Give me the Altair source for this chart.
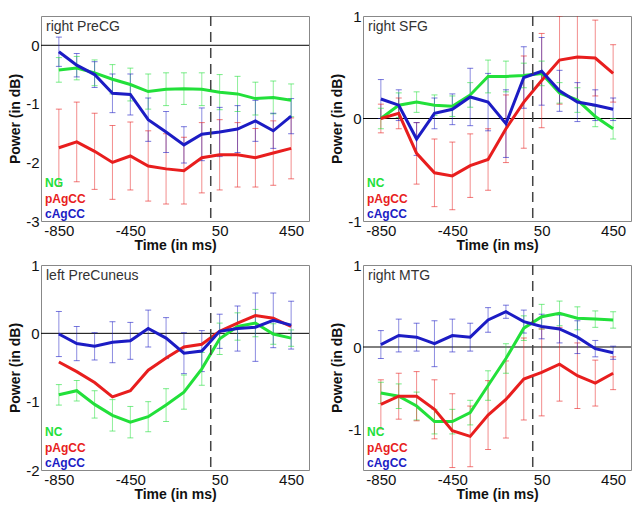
import altair as alt
import pandas as pd

times = [-850, -750, -650, -550, -450, -350, -250, -150, -50, 50, 150, 250, 350, 450]
groups = ["NC", "pAgCC", "cAgCC"]
colors = ["#22e03a", "#e81e1e", "#1c1cc4"]

# right PreCG
p1_title = "right PreCG"
p1_legend = ["NG", "pAgCC", "cAgCC"]
p1_nc = [-0.42, -0.39, -0.47, -0.58, -0.67, -0.79, -0.75, -0.74, -0.75, -0.80, -0.83, -0.91, -0.89, -0.94]
p1_nc_err = [0.21, 0.2, 0.22, 0.25, 0.28, 0.3, 0.28, 0.27, 0.28, 0.3, 0.3, 0.28, 0.28, 0.28]
p1_pa = [-1.75, -1.65, -1.81, -2.0, -1.89, -2.06, -2.11, -2.14, -1.92, -1.87, -1.87, -1.92, -1.84, -1.76]
p1_pa_err = [0.66, 0.68, 0.65, 0.63, 0.58, 0.6, 0.6, 0.57, 0.6, 0.6, 0.55, 0.5, 0.55, 0.52]
p1_ca = [-0.11, -0.34, -0.50, -0.82, -0.84, -1.27, -1.48, -1.70, -1.52, -1.48, -1.43, -1.29, -1.46, -1.21]
p1_ca_err = [0.25, 0.2, 0.22, 0.33, 0.35, 0.37, 0.35, 0.31, 0.45, 0.42, 0.4, 0.35, 0.3, 0.3]
p1_ydom = [-3, 0.5]
p1_yticks = [-3, -2, -1, 0]

# right SFG
p2_title = "right SFG"
p2_legend = ["NC", "pAgCC", "cAgCC"]
p2_nc = [0.0, 0.13, 0.16, 0.13, 0.12, 0.23, 0.41, 0.41, 0.42, 0.44, 0.25, 0.18, 0.02, -0.10]
p2_nc_err = [0.1, 0.12, 0.1, 0.1, 0.1, 0.12, 0.16, 0.15, 0.12, 0.12, 0.1, 0.12, 0.1, 0.1]
p2_pa = [0.0, 0.05, -0.34, -0.53, -0.56, -0.46, -0.40, -0.10, 0.16, 0.37, 0.57, 0.60, 0.59, 0.44]
p2_pa_err = [0.14, 0.15, 0.3, 0.33, 0.33, 0.31, 0.3, 0.33, 0.45, 0.46, 0.43, 0.43, 0.37, 0.28]
p2_ca = [0.19, 0.13, -0.20, 0.05, 0.09, 0.21, 0.16, -0.05, 0.40, 0.46, 0.27, 0.16, 0.13, 0.09]
p2_ca_err = [0.19, 0.15, 0.16, 0.15, 0.15, 0.28, 0.28, 0.33, 0.3, 0.33, 0.2, 0.19, 0.15, 0.11]
p2_ydom = [-1, 1]
p2_yticks = [-1, 0, 1]

# left PreCuneus
p3_title = "left PreCuneus"
p3_legend = ["NC", "pAgCC", "cAgCC"]
p3_nc = [-0.90, -0.84, -1.04, -1.20, -1.30, -1.22, -1.05, -0.86, -0.52, -0.08, 0.10, 0.15, -0.01, -0.07]
p3_nc_err = [0.15, 0.15, 0.2, 0.23, 0.23, 0.22, 0.24, 0.25, 0.24, 0.23, 0.2, 0.2, 0.15, 0.12]
p3_pa = [-0.42, -0.56, -0.72, -0.93, -0.84, -0.54, -0.36, -0.20, -0.16, 0.03, 0.15, 0.26, 0.22, 0.10]
p3_pa_err = [0] * 14
p3_ca = [-0.01, -0.15, -0.19, -0.13, -0.11, 0.07, -0.07, -0.29, -0.26, 0.03, 0.07, 0.09, 0.19, 0.12]
p3_ca_err = [0.33, 0.25, 0.2, 0.3, 0.27, 0.27, 0.3, 0.3, 0.3, 0.25, 0.33, 0.5, 0.4, 0.35]
p3_ydom = [-2, 1]
p3_yticks = [-2, -1, 0, 1]

# right MTG
p4_title = "right MTG"
p4_legend = ["NC", "pAgCC", "cAgCC"]
p4_nc = [-0.56, -0.60, -0.72, -0.91, -0.91, -0.80, -0.47, -0.14, 0.23, 0.37, 0.41, 0.35, 0.34, 0.33]
p4_nc_err = [0.13, 0.15, 0.17, 0.15, 0.15, 0.15, 0.18, 0.18, 0.15, 0.15, 0.15, 0.14, 0.1, 0.1]
p4_pa = [-0.70, -0.60, -0.60, -0.76, -1.02, -1.09, -0.83, -0.64, -0.39, -0.31, -0.21, -0.35, -0.44, -0.32]
p4_pa_err = [0.3, 0.28, 0.3, 0.36, 0.45, 0.37, 0.42, 0.47, 0.5, 0.53, 0.45, 0.4, 0.28, 0.2]
p4_ca = [0.03, 0.14, 0.12, 0.04, 0.14, 0.12, 0.33, 0.43, 0.31, 0.25, 0.22, 0.12, -0.02, -0.07]
p4_ca_err = [0.17, 0.2, 0.17, 0.28, 0.2, 0.17, 0.15, 0.08, 0.14, 0.15, 0.17, 0.2, 0.1, 0.08]
p4_ydom = [-1.5, 1]
p4_yticks = [-1, 0, 1]

x_ticks = [-850, -450, 50, 450]
x_dom = [-950, 550]

W, H = 268, 205
FONT = "Liberation Sans"


def panel(title, legend, nc, nc_e, pa, pa_e, ca, ca_e, ydom, yticks):
    rows = []
    for g, m, e in zip(groups, [nc, pa, ca], [nc_e, pa_e, ca_e]):
        for t, v, er in zip(times, m, e):
            rows.append({"group": g, "time": t, "mean": v, "lo": v - er, "hi": v + er, "err": er})
    df = pd.DataFrame(rows)
    xscale = alt.Scale(domain=x_dom, nice=False, zero=False)
    yscale = alt.Scale(domain=ydom, nice=False, zero=False)
    cscale = alt.Scale(domain=groups, range=colors)
    col = alt.Color("group:N", scale=cscale, legend=None)
    base = alt.Chart(df)
    eb = base.transform_filter("datum.err > 0")
    rules = eb.mark_rule(strokeWidth=1, opacity=0.5, clip=True).encode(
        x=alt.X("time:Q", scale=xscale,
                axis=alt.Axis(values=x_ticks, title="Time (in ms)", tickCount=20,
                              labelExpr="'' + datum.value", labelOverlap=False)),
        y=alt.Y("lo:Q", scale=yscale,
                axis=alt.Axis(values=yticks, title="Power (in dB)", tickCount=20,
                              labelExpr="'' + datum.value", labelOverlap=False)),
        y2="hi:Q", color=col)
    cap_lo = eb.mark_tick(orient="horizontal", size=6, thickness=1, opacity=0.6, clip=True).encode(
        x="time:Q", y="lo:Q", color=col)
    cap_hi = eb.mark_tick(orient="horizontal", size=6, thickness=1, opacity=0.6, clip=True).encode(
        x="time:Q", y="hi:Q", color=col)
    zero = alt.Chart(pd.DataFrame({"y": [0]})).mark_rule(color="black", strokeWidth=1).encode(y="y:Q")
    vline = alt.Chart(pd.DataFrame({"x": [0]})).mark_rule(
        color="#444444", strokeWidth=1.5, strokeDash=[10, 6]).encode(x="x:Q")
    lines = base.mark_line(strokeWidth=3, clip=True).encode(
        x="time:Q", y="mean:Q", color=col, detail="group:N")
    ttl = alt.Chart(pd.DataFrame({"t": [title]})).mark_text(
        align="left", baseline="middle", fontSize=14, font=FONT, color="#333333").encode(
        x=alt.value(5), y=alt.value(11), text="t:N")
    legdf = pd.DataFrame({"t": legend, "g": groups, "py": [H - 38, H - 22, H - 7]})
    leg = alt.Chart(legdf).mark_text(
        align="left", baseline="middle", fontSize=12, font=FONT, fontWeight="bold").encode(
        x=alt.value(4), y=alt.Y("py:Q", scale=None, axis=None),
        text="t:N", color=alt.Color("g:N", scale=cscale, legend=None))
    return alt.layer(zero, rules, cap_lo, cap_hi, lines, vline, ttl, leg).properties(width=W, height=H)


c1 = panel(p1_title, p1_legend, p1_nc, p1_nc_err, p1_pa, p1_pa_err, p1_ca, p1_ca_err, p1_ydom, p1_yticks)
c2 = panel(p2_title, p2_legend, p2_nc, p2_nc_err, p2_pa, p2_pa_err, p2_ca, p2_ca_err, p2_ydom, p2_yticks)
c3 = panel(p3_title, p3_legend, p3_nc, p3_nc_err, p3_pa, p3_pa_err, p3_ca, p3_ca_err, p3_ydom, p3_yticks)
c4 = panel(p4_title, p4_legend, p4_nc, p4_nc_err, p4_pa, p4_pa_err, p4_ca, p4_ca_err, p4_ydom, p4_yticks)

chart = alt.vconcat(
    alt.hconcat(c1, c2, spacing=20),
    alt.hconcat(c3, c4, spacing=20),
    spacing=4,
).properties(padding=0).configure_view(stroke="#888888", strokeWidth=1).configure_axis(
    grid=False, domain=False, ticks=False, labelOverlap=False,
    labelFont=FONT, labelFontSize=15, labelColor="#111111", labelPadding=2,
    titleFont=FONT, titleFontSize=14, titleFontWeight="bold", titleColor="#111111", titlePadding=0,
).configure_axisY(titlePadding=3).configure_axisX(labelFlush=False)

chart.save("out.html", embed_options={"renderer": "svg", "actions": False})
